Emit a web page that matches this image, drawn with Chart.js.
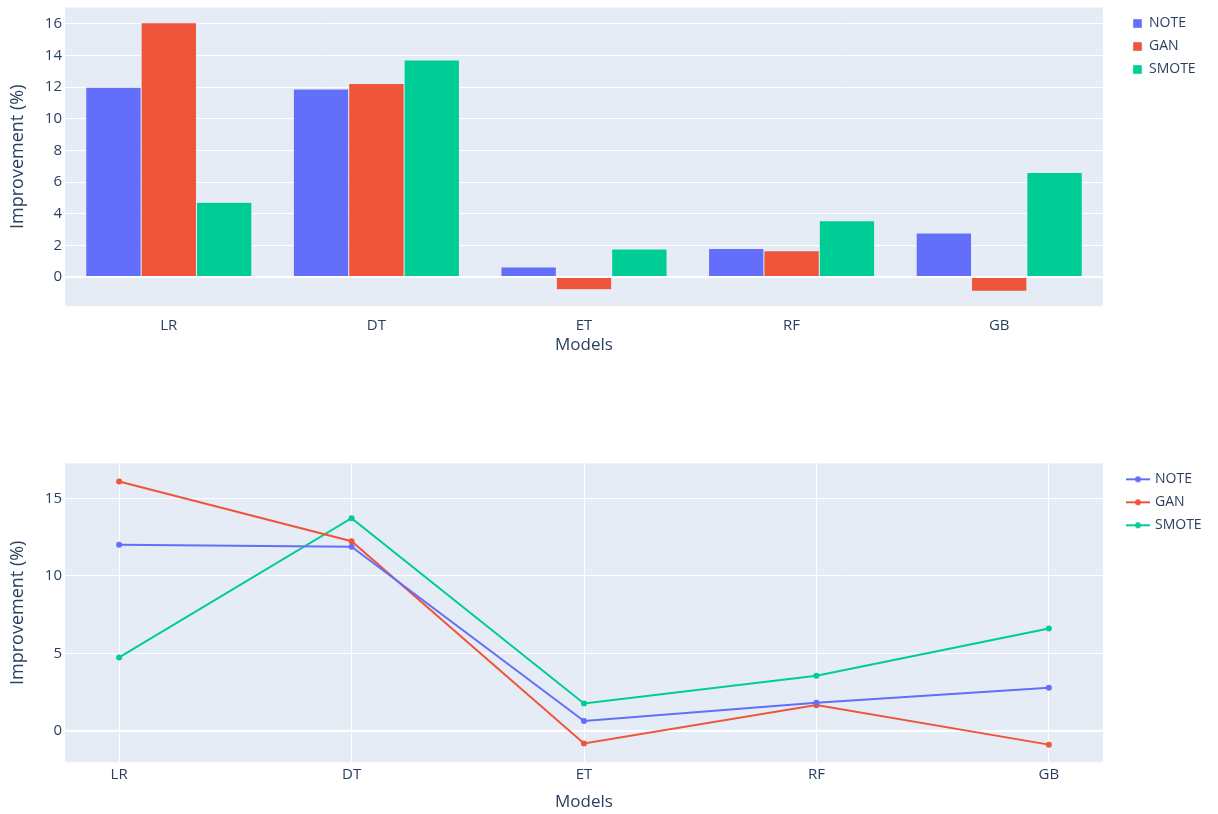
<!DOCTYPE html>
<html><head><meta charset="utf-8">
<script src="https://cdn.jsdelivr.net/npm/chart.js@4.4.1/dist/chart.umd.min.js"></script>
<style>
html,body{margin:0;padding:0;background:#fff;}
#c1wrap{position:absolute;left:0;top:0;width:1218px;height:370px;}
#c2wrap{position:absolute;left:0;top:455px;width:1218px;height:359px;}
</style></head><body>
<div id="c1wrap"><canvas id="c1"></canvas></div>
<div id="c2wrap"><canvas id="c2"></canvas></div>
<script>
const categories = ['LR', 'DT', 'ET', 'RF', 'GB'];
const seriesNames = ['NOTE', 'GAN', 'SMOTE'];
const noteValues = [12.0, 11.88, 0.62, 1.8, 2.78];
const ganValues = [16.08, 12.23, -0.82, 1.65, -0.9];
const smoteValues = [4.73, 13.72, 1.76, 3.55, 6.6];
const barYTicks = [0, 2, 4, 6, 8, 10, 12, 14, 16];
const lineYTicks = [0, 5, 10, 15];
const xTitle = 'Models';
const yTitle = 'Improvement (%)';

const colors = ['#636EFA', '#EF553B', '#00CC96'];
const seriesValues = [noteValues, ganValues, smoteValues];
const TXT = '#2a3f5f';
const FONT = "'Open Sans', 'Liberation Sans', sans-serif";

const plotBg = {
  id: 'plotBg',
  beforeDraw(chart) {
    const {ctx, chartArea: a} = chart;
    ctx.save();
    ctx.fillStyle = '#E5ECF6';
    ctx.fillRect(a.left, a.top, a.right - a.left, a.bottom - a.top);
    ctx.restore();
  }
};
function legendFix(width, shift) {
  return {
    id: 'legendFix',
    afterInit(chart) {
      const lg = chart.legend;
      const f = lg.fit.bind(lg);
      lg.fit = function () { f(); this.width = width; };
    },
    afterLayout(chart) {
      const lg = chart.legend;
      lg.left += shift; lg.right += shift;
    }
  };
}
function lineSymbol(color) {
  const c = document.createElement('canvas');
  c.width = 24; c.height = 8;
  const g = c.getContext('2d');
  g.strokeStyle = color; g.lineWidth = 2;
  g.beginPath(); g.moveTo(0, 4); g.lineTo(24, 4); g.stroke();
  g.fillStyle = color;
  g.beginPath(); g.arc(12, 4, 3, 0, Math.PI * 2); g.fill();
  return c;
}
const gridWidth = (c) => (c.tick && c.tick.value === 0 ? 2 : 1);
function fixY(s) { s.width = 65; s.paddingTop = 0; s.paddingBottom = 0; }

new Chart(document.getElementById('c1'), {
  type: 'bar',
  data: {
    labels: categories,
    datasets: seriesNames.map((n, i) => ({
      label: n,
      data: seriesValues[i],
      backgroundColor: colors[i],
      borderColor: '#E5ECF6',
      borderWidth: 0.5,
      categoryPercentage: 0.8,
      barPercentage: 1.0
    }))
  },
  options: {
    responsive: true, maintainAspectRatio: false, animation: false,
    layout: {padding: {top: 7.5, left: 0, right: 0, bottom: 0}},
    plugins: {
      tooltip: {enabled: false},
      legend: {
        position: 'right', align: 'start',
        labels: {boxWidth: 9, boxHeight: 9, padding: 9, color: TXT, font: {family: FONT, size: 14}}
      }
    },
    scales: {
      x: {
        type: 'category', offset: true,
        grid: {display: false}, border: {display: false},
        ticks: {color: TXT, font: {family: FONT, size: 15}, padding: 3},
        title: {display: true, text: xTitle, color: TXT, font: {family: FONT, size: 17}, padding: {top: 0, bottom: 15}},
        afterFit(s) { s.height = 64; s.paddingLeft = 0; s.paddingRight = 0; }
      },
      y: {
        min: -1.84, max: 17.04,
        grid: {color: '#ffffff', lineWidth: gridWidth, drawTicks: false},
        border: {display: false},
        ticks: {color: TXT, font: {family: FONT, size: 15}, padding: 3},
        afterBuildTicks(s) { s.ticks = barYTicks.map(v => ({value: v})); },
        title: {display: true, text: yTitle, color: TXT, font: {family: FONT, size: 18}, padding: {top: 7, bottom: 0}},
        afterFit: fixY
      }
    }
  },
  plugins: [plotBg, legendFix(115, 21)]
});

const symbols = colors.map(lineSymbol);
new Chart(document.getElementById('c2'), {
  type: 'line',
  data: {
    datasets: seriesNames.map((n, i) => ({
      label: n,
      data: seriesValues[i].map((v, k) => ({x: k, y: v})),
      borderColor: colors[i],
      backgroundColor: colors[i],
      borderWidth: 2,
      pointRadius: 3,
      pointBorderWidth: 0,
      pointBackgroundColor: colors[i],
      tension: 0,
      fill: false
    }))
  },
  options: {
    responsive: true, maintainAspectRatio: false, animation: false,
    layout: {padding: {top: 8.3, left: 0, right: 0, bottom: 0}},
    plugins: {
      tooltip: {enabled: false},
      legend: {
        position: 'right', align: 'start',
        labels: {
          usePointStyle: true, pointStyleWidth: 20, padding: 9, color: TXT,
          font: {family: FONT, size: 14},
          generateLabels(chart) {
            return chart.data.datasets.map((d, i) => ({
              text: d.label, pointStyle: symbols[i], fillStyle: d.borderColor,
              strokeStyle: d.borderColor, lineWidth: 0, hidden: false,
              datasetIndex: i, fontColor: TXT
            }));
          }
        }
      }
    },
    scales: {
      x: {
        type: 'linear', min: -0.233, max: 4.233,
        grid: {color: '#ffffff', lineWidth: 1, drawTicks: false},
        border: {display: false},
        afterBuildTicks(s) { s.ticks = categories.map((c, i) => ({value: i})); },
        ticks: {color: TXT, font: {family: FONT, size: 15}, padding: 3, callback: (v) => categories[v]},
        title: {display: true, text: xTitle, color: TXT, font: {family: FONT, size: 17}, padding: {top: 0, bottom: 2}},
        afterFit(s) { s.height = 51.7; s.paddingLeft = 0; s.paddingRight = 0; }
      },
      y: {
        min: -2.04, max: 17.26,
        grid: {color: '#ffffff', lineWidth: gridWidth, drawTicks: false},
        border: {display: false},
        ticks: {color: TXT, font: {family: FONT, size: 15}, padding: 3},
        afterBuildTicks(s) { s.ticks = lineYTicks.map(v => ({value: v})); },
        title: {display: true, text: yTitle, color: TXT, font: {family: FONT, size: 18}, padding: {top: 7, bottom: 0}},
        afterFit: fixY
      }
    }
  },
  plugins: [plotBg, legendFix(115, 16)]
});
</script>
</body></html>
